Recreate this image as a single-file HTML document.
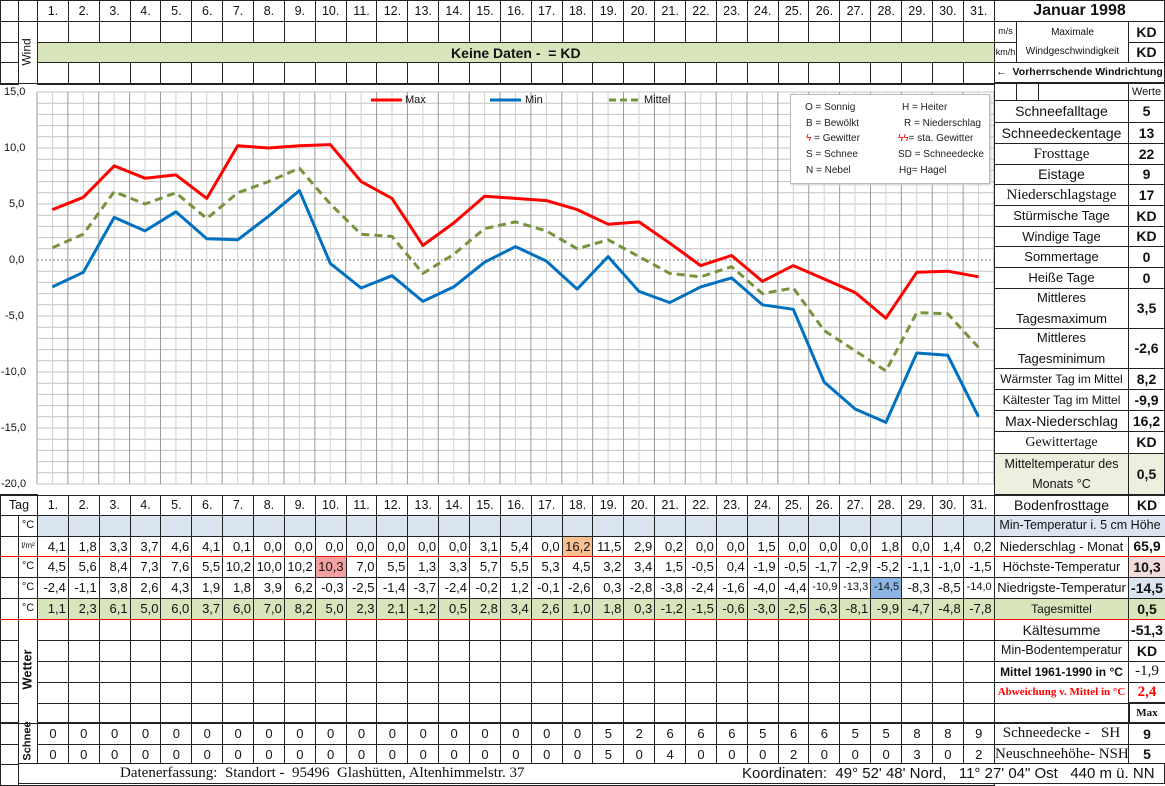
<!DOCTYPE html>
<html><head><meta charset="utf-8">
<style>
*{box-sizing:border-box}
body{margin:0;width:1165px;height:784px;overflow:hidden;background:#fff;font-family:"Liberation Sans",sans-serif;color:#111}
#pg{position:relative;width:1165px;height:784px}
table{border-collapse:collapse;table-layout:fixed;position:absolute}
td{border:1px solid #222;padding:0;overflow:hidden;white-space:nowrap;font-size:13px;text-align:center;line-height:1}
td.n{text-align:right;padding-right:2px}
td.s{font-size:11px}
.d td{font-size:12.5px}
tr.r td{border-bottom:1px solid #f00}
.g td.v{background:#d8e4bc}
.b td.v{background:#dbe5f1}
.c{position:absolute;border:1px solid #222;display:flex;align-items:center;justify-content:center;text-align:center;font-size:13px;line-height:1.5;background:#fff;white-space:nowrap}
.lab{left:994px;width:135px}
.val{left:1128px;width:37px;font-weight:bold;font-size:14px}
.se{font-family:"Liberation Serif",serif;font-size:14px}
.rot{position:absolute;transform:rotate(-90deg);font-size:12px;white-space:nowrap}
svg{position:absolute;left:0;top:0}
</style></head><body><div id="pg">

<svg id="ch" width="1165" height="784"></svg>

<table style="left:0;top:0;width:994px">
<colgroup><col style="width:18px"><col style="width:19px"><col span="31" style="width:30.87px"></colgroup>
<tr class="d" style="height:21px"><td></td><td></td><td>1.</td><td>2.</td><td>3.</td><td>4.</td><td>5.</td><td>6.</td><td>7.</td><td>8.</td><td>9.</td><td>10.</td><td>11.</td><td>12.</td><td>13.</td><td>14.</td><td>15.</td><td>16.</td><td>17.</td><td>18.</td><td>19.</td><td>20.</td><td>21.</td><td>22.</td><td>23.</td><td>24.</td><td>25.</td><td>26.</td><td>27.</td><td>28.</td><td>29.</td><td>30.</td><td>31.</td></tr>
<tr style="height:21px"><td></td><td rowspan="3"></td><td></td><td></td><td></td><td></td><td></td><td></td><td></td><td></td><td></td><td></td><td></td><td></td><td></td><td></td><td></td><td></td><td></td><td></td><td></td><td></td><td></td><td></td><td></td><td></td><td></td><td></td><td></td><td></td><td></td><td></td><td></td></tr>
<tr style="height:20px"><td></td><td colspan="31" style="background:#d8e4bc;font-weight:bold;font-size:14px">Keine Daten -&nbsp; = KD</td></tr>
<tr style="height:21px"><td style="border-bottom:2px solid #222"></td><td style="border-bottom:2px solid #222"></td><td style="border-bottom:2px solid #222"></td><td style="border-bottom:2px solid #222"></td><td style="border-bottom:2px solid #222"></td><td style="border-bottom:2px solid #222"></td><td style="border-bottom:2px solid #222"></td><td style="border-bottom:2px solid #222"></td><td style="border-bottom:2px solid #222"></td><td style="border-bottom:2px solid #222"></td><td style="border-bottom:2px solid #222"></td><td style="border-bottom:2px solid #222"></td><td style="border-bottom:2px solid #222"></td><td style="border-bottom:2px solid #222"></td><td style="border-bottom:2px solid #222"></td><td style="border-bottom:2px solid #222"></td><td style="border-bottom:2px solid #222"></td><td style="border-bottom:2px solid #222"></td><td style="border-bottom:2px solid #222"></td><td style="border-bottom:2px solid #222"></td><td style="border-bottom:2px solid #222"></td><td style="border-bottom:2px solid #222"></td><td style="border-bottom:2px solid #222"></td><td style="border-bottom:2px solid #222"></td><td style="border-bottom:2px solid #222"></td><td style="border-bottom:2px solid #222"></td><td style="border-bottom:2px solid #222"></td><td style="border-bottom:2px solid #222"></td><td style="border-bottom:2px solid #222"></td><td style="border-bottom:2px solid #222"></td><td style="border-bottom:2px solid #222"></td><td style="border-bottom:2px solid #222"></td></tr>
</table>
<div class="rot" style="left:13px;top:45px">Wind</div>

<div style="position:absolute;left:4px;top:86px;font-size:11px">15,0</div>
<div style="position:absolute;left:4px;top:142px;font-size:11px">10,0</div>
<div style="position:absolute;left:9px;top:198px;font-size:11px">5,0</div>
<div style="position:absolute;left:9px;top:254px;font-size:11px">0,0</div>
<div style="position:absolute;left:5px;top:310px;font-size:11px">-5,0</div>
<div style="position:absolute;left:1px;top:366px;font-size:11px">-10,0</div>
<div style="position:absolute;left:1px;top:422px;font-size:11px">-15,0</div>
<div style="position:absolute;left:1px;top:478px;font-size:11px">-20,0</div>
<div style="position:absolute;left:405px;top:94px;font-size:11px">Max</div>
<div style="position:absolute;left:525px;top:94px;font-size:11px">Min</div>
<div style="position:absolute;left:644px;top:94px;font-size:11px">Mittel</div>

<div style="position:absolute;left:790px;top:94px;width:200px;height:90px;border:1px solid #bbb;background:#fff;box-shadow:1px 1px 2px #ccc;font-size:10px;color:#222">
<div style="position:absolute;left:14px;top:7px">O = Sonnig</div><div style="position:absolute;left:111px;top:7px">H = Heiter</div>
<div style="position:absolute;left:15px;top:23px">B = Bewölkt</div><div style="position:absolute;left:113px;top:23px">R = Niederschlag</div>
<div style="position:absolute;left:15px;top:38px"><span style="color:#e00">ϟ</span> = Gewitter</div><div style="position:absolute;left:107px;top:38px"><span style="color:#e00">ϟϟ</span>= sta. Gewitter</div>
<div style="position:absolute;left:15px;top:54px">S = Schnee</div><div style="position:absolute;left:107px;top:54px">SD = Schneedecke</div>
<div style="position:absolute;left:15px;top:70px">N = Nebel</div><div style="position:absolute;left:108px;top:70px">Hg= Hagel</div>
</div>

<div class="c" style="left:994px;top:0;width:171px;height:22px;font-weight:bold;font-size:16px">Januar 1998</div>
<div class="c" style="left:994px;top:21px;width:23px;height:22px;font-size:9px">m/s</div>
<div class="c" style="left:994px;top:42px;width:23px;height:21px;font-size:9px">km/h</div>
<div class="c" style="left:1016px;top:21px;width:113px;height:42px;font-size:10px;line-height:1.9">Maximale<br>Windgeschwindigkeit</div>
<div class="c val" style="top:21px;height:22px">KD</div>
<div class="c val" style="top:42px;height:21px">KD</div>
<div class="c" style="left:994px;top:62px;width:171px;height:22px;font-weight:bold;font-size:10.5px;border-bottom:2px solid #222">←&nbsp; Vorherrschende Windrichtung</div>
<div class="c" style="left:994px;top:83px;width:23px;height:18px"></div>
<div class="c" style="left:1016px;top:83px;width:23px;height:18px"></div>
<div class="c" style="left:1038px;top:83px;width:91px;height:18px"></div>
<div class="c" style="left:1128px;top:83px;width:37px;height:18px;font-size:11px">Werte</div>

<div class="c lab" style="top:100px;height:23px;font-size:14px">Schneefalltage</div><div class="c val" style="top:100px;height:23px">5</div>
<div class="c lab" style="top:122px;height:22px;font-size:14px">Schneedeckentage</div><div class="c val" style="top:122px;height:22px">13</div>
<div class="c lab se" style="top:143px;height:22px;font-size:15px">Frosttage</div><div class="c val" style="top:143px;height:22px">22</div>
<div class="c lab" style="top:164px;height:21px;font-size:14px">Eistage</div><div class="c val" style="top:164px;height:21px">9</div>
<div class="c lab se" style="top:184px;height:22px;font-size:15px">Niederschlagstage</div><div class="c val" style="top:184px;height:22px">17</div>
<div class="c lab" style="top:205px;height:22px">Stürmische Tage</div><div class="c val" style="top:205px;height:22px">KD</div>
<div class="c lab" style="top:226px;height:21px">Windige Tage</div><div class="c val" style="top:226px;height:21px">KD</div>
<div class="c lab" style="top:246px;height:22px">Sommertage</div><div class="c val" style="top:246px;height:22px">0</div>
<div class="c lab" style="top:267px;height:22px">Heiße Tage</div><div class="c val" style="top:267px;height:22px">0</div>
<div class="c lab" style="top:288px;height:41px;line-height:1.55">Mittleres<br>Tagesmaximum</div><div class="c val" style="top:288px;height:41px">3,5</div>
<div class="c lab" style="top:328px;height:41px;line-height:1.55">Mittleres<br>Tagesminimum</div><div class="c val" style="top:328px;height:41px">-2,6</div>
<div class="c lab" style="top:368px;height:22px;font-size:12px">Wärmster Tag im Mittel</div><div class="c val" style="top:368px;height:22px">8,2</div>
<div class="c lab" style="top:389px;height:22px;font-size:12px">Kältester Tag im Mittel</div><div class="c val" style="top:389px;height:22px">-9,9</div>
<div class="c lab" style="top:410px;height:22px;font-size:14px">Max-Niederschlag</div><div class="c val" style="top:410px;height:22px">16,2</div>
<div class="c lab se" style="top:431px;height:23px">Gewittertage</div><div class="c val" style="top:431px;height:23px">KD</div>
<div class="c lab" style="top:453px;height:42px;font-size:12.5px;line-height:1.6;background:#ebf1de">Mitteltemperatur des<br>Monats °C</div><div class="c val" style="top:453px;height:42px;background:#ebf1de">0,5</div>

<table style="left:0;top:494px;width:994px">
<colgroup><col style="width:18px"><col style="width:19px"><col span="31" style="width:30.87px"></colgroup>
<tr class="d" style="height:20px"><td colspan="2" style="border-top:2px solid #222">Tag</td><td>1.</td><td>2.</td><td>3.</td><td>4.</td><td>5.</td><td>6.</td><td>7.</td><td>8.</td><td>9.</td><td>10.</td><td>11.</td><td>12.</td><td>13.</td><td>14.</td><td>15.</td><td>16.</td><td>17.</td><td>18.</td><td>19.</td><td>20.</td><td>21.</td><td>22.</td><td>23.</td><td>24.</td><td>25.</td><td>26.</td><td>27.</td><td>28.</td><td>29.</td><td>30.</td><td>31.</td></tr>
<tr class="b" style="height:21px"><td></td><td style="font-size:11px">°C</td><td class="v"></td><td class="v"></td><td class="v"></td><td class="v"></td><td class="v"></td><td class="v"></td><td class="v"></td><td class="v"></td><td class="v"></td><td class="v"></td><td class="v"></td><td class="v"></td><td class="v"></td><td class="v"></td><td class="v"></td><td class="v"></td><td class="v"></td><td class="v"></td><td class="v"></td><td class="v"></td><td class="v"></td><td class="v"></td><td class="v"></td><td class="v"></td><td class="v"></td><td class="v"></td><td class="v"></td><td class="v"></td><td class="v"></td><td class="v"></td><td class="v"></td></tr>
<tr class="r" style="height:20px"><td></td><td style="font-size:8px">l/m²</td><td class="n">4,1</td><td class="n">1,8</td><td class="n">3,3</td><td class="n">3,7</td><td class="n">4,6</td><td class="n">4,1</td><td class="n">0,1</td><td class="n">0,0</td><td class="n">0,0</td><td class="n">0,0</td><td class="n">0,0</td><td class="n">0,0</td><td class="n">0,0</td><td class="n">0,0</td><td class="n">3,1</td><td class="n">5,4</td><td class="n">0,0</td><td class="n" style="background:#fac090">16,2</td><td class="n">11,5</td><td class="n">2,9</td><td class="n">0,2</td><td class="n">0,0</td><td class="n">0,0</td><td class="n">1,5</td><td class="n">0,0</td><td class="n">0,0</td><td class="n">0,0</td><td class="n">1,8</td><td class="n">0,0</td><td class="n">1,4</td><td class="n">0,2</td></tr>
<tr style="height:21px"><td></td><td style="font-size:11px">°C</td><td class="n">4,5</td><td class="n">5,6</td><td class="n">8,4</td><td class="n">7,3</td><td class="n">7,6</td><td class="n">5,5</td><td class="n">10,2</td><td class="n">10,0</td><td class="n">10,2</td><td class="n" style="background:#f2a0a0">10,3</td><td class="n">7,0</td><td class="n">5,5</td><td class="n">1,3</td><td class="n">3,3</td><td class="n">5,7</td><td class="n">5,5</td><td class="n">5,3</td><td class="n">4,5</td><td class="n">3,2</td><td class="n">3,4</td><td class="n">1,5</td><td class="n">-0,5</td><td class="n">0,4</td><td class="n">-1,9</td><td class="n">-0,5</td><td class="n">-1,7</td><td class="n">-2,9</td><td class="n">-5,2</td><td class="n">-1,1</td><td class="n">-1,0</td><td class="n">-1,5</td></tr>
<tr style="height:21px"><td></td><td style="font-size:11px">°C</td><td class="n">-2,4</td><td class="n">-1,1</td><td class="n">3,8</td><td class="n">2,6</td><td class="n">4,3</td><td class="n">1,9</td><td class="n">1,8</td><td class="n">3,9</td><td class="n">6,2</td><td class="n">-0,3</td><td class="n">-2,5</td><td class="n">-1,4</td><td class="n">-3,7</td><td class="n">-2,4</td><td class="n">-0,2</td><td class="n">1,2</td><td class="n">-0,1</td><td class="n">-2,6</td><td class="n">0,3</td><td class="n">-2,8</td><td class="n">-3,8</td><td class="n">-2,4</td><td class="n">-1,6</td><td class="n">-4,0</td><td class="n">-4,4</td><td class="n s">-10,9</td><td class="n s">-13,3</td><td class="n s" style="background:#8db4e2">-14,5</td><td class="n">-8,3</td><td class="n">-8,5</td><td class="n s">-14,0</td></tr>
<tr class="r g" style="height:21px"><td></td><td style="font-size:11px">°C</td><td class="n v">1,1</td><td class="n v">2,3</td><td class="n v">6,1</td><td class="n v">5,0</td><td class="n v">6,0</td><td class="n v">3,7</td><td class="n v">6,0</td><td class="n v">7,0</td><td class="n v">8,2</td><td class="n v">5,0</td><td class="n v">2,3</td><td class="n v">2,1</td><td class="n v">-1,2</td><td class="n v">0,5</td><td class="n v">2,8</td><td class="n v">3,4</td><td class="n v">2,6</td><td class="n v">1,0</td><td class="n v">1,8</td><td class="n v">0,3</td><td class="n v">-1,2</td><td class="n v">-1,5</td><td class="n v">-0,6</td><td class="n v">-3,0</td><td class="n v">-2,5</td><td class="n v">-6,3</td><td class="n v">-8,1</td><td class="n v">-9,9</td><td class="n v">-4,7</td><td class="n v">-4,8</td><td class="n v">-7,8</td></tr>
<tr style="height:21px"><td></td><td rowspan="5"></td><td></td><td></td><td></td><td></td><td></td><td></td><td></td><td></td><td></td><td></td><td></td><td></td><td></td><td></td><td></td><td></td><td></td><td></td><td></td><td></td><td></td><td></td><td></td><td></td><td></td><td></td><td></td><td></td><td></td><td></td><td></td></tr>
<tr style="height:21px"><td></td><td></td><td></td><td></td><td></td><td></td><td></td><td></td><td></td><td></td><td></td><td></td><td></td><td></td><td></td><td></td><td></td><td></td><td></td><td></td><td></td><td></td><td></td><td></td><td></td><td></td><td></td><td></td><td></td><td></td><td></td><td></td></tr>
<tr style="height:21px"><td></td><td></td><td></td><td></td><td></td><td></td><td></td><td></td><td></td><td></td><td></td><td></td><td></td><td></td><td></td><td></td><td></td><td></td><td></td><td></td><td></td><td></td><td></td><td></td><td></td><td></td><td></td><td></td><td></td><td></td><td></td><td></td></tr>
<tr style="height:21px"><td></td><td></td><td></td><td></td><td></td><td></td><td></td><td></td><td></td><td></td><td></td><td></td><td></td><td></td><td></td><td></td><td></td><td></td><td></td><td></td><td></td><td></td><td></td><td></td><td></td><td></td><td></td><td></td><td></td><td></td><td></td><td></td></tr>
<tr style="height:20px"><td style="border-bottom:2px solid #222"></td><td style="border-bottom:2px solid #222"></td><td style="border-bottom:2px solid #222"></td><td style="border-bottom:2px solid #222"></td><td style="border-bottom:2px solid #222"></td><td style="border-bottom:2px solid #222"></td><td style="border-bottom:2px solid #222"></td><td style="border-bottom:2px solid #222"></td><td style="border-bottom:2px solid #222"></td><td style="border-bottom:2px solid #222"></td><td style="border-bottom:2px solid #222"></td><td style="border-bottom:2px solid #222"></td><td style="border-bottom:2px solid #222"></td><td style="border-bottom:2px solid #222"></td><td style="border-bottom:2px solid #222"></td><td style="border-bottom:2px solid #222"></td><td style="border-bottom:2px solid #222"></td><td style="border-bottom:2px solid #222"></td><td style="border-bottom:2px solid #222"></td><td style="border-bottom:2px solid #222"></td><td style="border-bottom:2px solid #222"></td><td style="border-bottom:2px solid #222"></td><td style="border-bottom:2px solid #222"></td><td style="border-bottom:2px solid #222"></td><td style="border-bottom:2px solid #222"></td><td style="border-bottom:2px solid #222"></td><td style="border-bottom:2px solid #222"></td><td style="border-bottom:2px solid #222"></td><td style="border-bottom:2px solid #222"></td><td style="border-bottom:2px solid #222"></td><td style="border-bottom:2px solid #222"></td><td style="border-bottom:2px solid #222"></td></tr>
<tr style="height:21px"><td></td><td rowspan="2"></td><td>0</td><td>0</td><td>0</td><td>0</td><td>0</td><td>0</td><td>0</td><td>0</td><td>0</td><td>0</td><td>0</td><td>0</td><td>0</td><td>0</td><td>0</td><td>0</td><td>0</td><td>0</td><td>5</td><td>2</td><td>6</td><td>6</td><td>6</td><td>5</td><td>6</td><td>6</td><td>5</td><td>5</td><td>8</td><td>8</td><td>9</td></tr>
<tr style="height:20px"><td></td><td>0</td><td>0</td><td>0</td><td>0</td><td>0</td><td>0</td><td>0</td><td>0</td><td>0</td><td>0</td><td>0</td><td>0</td><td>0</td><td>0</td><td>0</td><td>0</td><td>0</td><td>0</td><td>5</td><td>0</td><td>4</td><td>0</td><td>0</td><td>0</td><td>2</td><td>0</td><td>0</td><td>0</td><td>3</td><td>0</td><td>2</td></tr>
<tr style="height:21px"><td></td><td colspan="32"></td></tr>
</table>
<div class="rot" style="left:7px;top:662px;font-weight:bold;font-size:13px">Wetter</div>
<div class="rot" style="left:8px;top:735px;font-weight:bold;font-size:11px">Schnee</div>

<table style="left:994px;top:494px;width:171px">
<colgroup><col style="width:134px"><col style="width:37px"></colgroup>
<tr style="height:20px"><td style="border-top:2px solid #222;font-size:14px">Bodenfrosttage</td><td style="font-weight:bold;font-size:14px;border-top:2px solid #222">KD</td></tr>
<tr style="height:21px"><td colspan="2" style="background:#dbe5f1;font-size:12.5px">Min-Temperatur i. 5 cm Höhe</td></tr>
<tr class="r" style="height:20px"><td>Niederschlag - Monat</td><td style="font-weight:bold;font-size:14px">65,9</td></tr>
<tr style="height:21px"><td>Höchste-Temperatur</td><td style="font-weight:bold;font-size:14px;background:#f2dcdb">10,3</td></tr>
<tr style="height:21px"><td>Niedrigste-Temperatur</td><td style="font-weight:bold;font-size:14px;background:#dbe5f1">-14,5</td></tr>
<tr class="r" style="height:21px"><td style="background:#d8e4bc;font-size:12px">Tagesmittel</td><td style="font-weight:bold;font-size:14px;background:#d8e4bc">0,5</td></tr>
<tr style="height:21px"><td style="font-size:14px">Kältesumme</td><td style="font-weight:bold;font-size:14px">-51,3</td></tr>
<tr style="height:21px"><td style="font-size:12.5px">Min-Bodentemperatur</td><td style="font-weight:bold;font-size:14px">KD</td></tr>
<tr style="height:21px"><td style="font-weight:bold;font-size:12px">Mittel 1961-1990 in °C</td><td style="font-family:'Liberation Serif',serif;font-size:15px">-1,9</td></tr>
<tr style="height:21px"><td style="font-family:'Liberation Serif',serif;font-weight:bold;font-size:11px;color:#f00">Abweichung v. Mittel in °C</td><td style="font-family:'Liberation Serif',serif;font-weight:bold;font-size:15px;color:#f00">2,4</td></tr>
<tr style="height:20px"><td style="border-bottom:2px solid #222"></td><td style="font-family:'Liberation Serif',serif;font-weight:bold;font-size:11px;border:2px solid #222">Max</td></tr>
<tr style="height:21px"><td class="se" style="font-size:15px">Schneedecke -&nbsp;&nbsp; SH</td><td style="font-weight:bold;font-size:14px">9</td></tr>
<tr style="height:20px"><td class="se" style="font-size:15px">Neuschneehöhe- NSH</td><td style="font-weight:bold;font-size:14px">5</td></tr>
</table>

<div style="position:absolute;left:18px;top:763px;width:1147px;height:21px;border:1px solid #222;background:#fff"></div>
<div style="position:absolute;left:120px;top:765px;font-family:'Liberation Serif',serif;font-size:15px;white-space:pre">Datenerfassung:  Standort -  95496  Glashütten, Altenhimmelstr. 37</div>
<div style="position:absolute;left:742px;top:765px;font-size:15px;white-space:pre">Koordinaten:  49° 52' 48' Nord,   11° 27' 04" Ost   440 m ü. NN</div>

<script>
(function(){
var s=document.getElementById('ch'),h='';
var X0=37,W=30.87;
function ln(x1,y1,x2,y2,c,w,d){h+='<line x1="'+x1+'" y1="'+y1+'" x2="'+x2+'" y2="'+y2+'" stroke="'+c+'" stroke-width="'+(w||1)+'"'+(d?' stroke-dasharray="'+d+'"':'')+'/>';}
for(var k=0;k<=35;k++){var y=92+k*11.2;if(k==15)ln(X0,y,994,y,'#777',1,'2,2');else ln(X0,y,994,y,'#c4c4c4');}
for(var j=0;j<=62;j++){var x=X0+j*W/2;ln(x,92,x,484,j%2?'#d0d0d0':'#999');}
ln(X0,84,994,84,'#222',2);
var mx=[4.5,5.6,8.4,7.3,7.6,5.5,10.2,10.0,10.2,10.3,7.0,5.5,1.3,3.3,5.7,5.5,5.3,4.5,3.2,3.4,1.5,-0.5,0.4,-1.9,-0.5,-1.7,-2.9,-5.2,-1.1,-1.0,-1.5];
var mn=[-2.4,-1.1,3.8,2.6,4.3,1.9,1.8,3.9,6.2,-0.3,-2.5,-1.4,-3.7,-2.4,-0.2,1.2,-0.1,-2.6,0.3,-2.8,-3.8,-2.4,-1.6,-4.0,-4.4,-10.9,-13.3,-14.5,-8.3,-8.5,-14.0];
var mt=[1.1,2.3,6.1,5.0,6.0,3.7,6.0,7.0,8.2,5.0,2.3,2.1,-1.2,0.5,2.8,3.4,2.6,1.0,1.8,0.3,-1.2,-1.5,-0.6,-3.0,-2.5,-6.3,-8.1,-9.9,-4.7,-4.8,-7.8];
function pl(a,c,d){var p=a.map(function(v,i){return (X0+W*(i+0.5)).toFixed(1)+','+(260-v*11.2).toFixed(1)}).join(' ');h+='<polyline points="'+p+'" fill="none" stroke="'+c+'" stroke-width="3" stroke-linejoin="round"'+(d?' stroke-dasharray="'+d+'"':'')+'/>';}
pl(mt,'#77933c','8,5');pl(mn,'#0070c0');pl(mx,'#ff0000');
ln(371,100,402,100,'#ff0000',3);ln(490,100,521,100,'#0070c0',3);ln(609,100,638,100,'#77933c',3,'7,4');
s.innerHTML=h;
})();
</script>
</div></body></html>
